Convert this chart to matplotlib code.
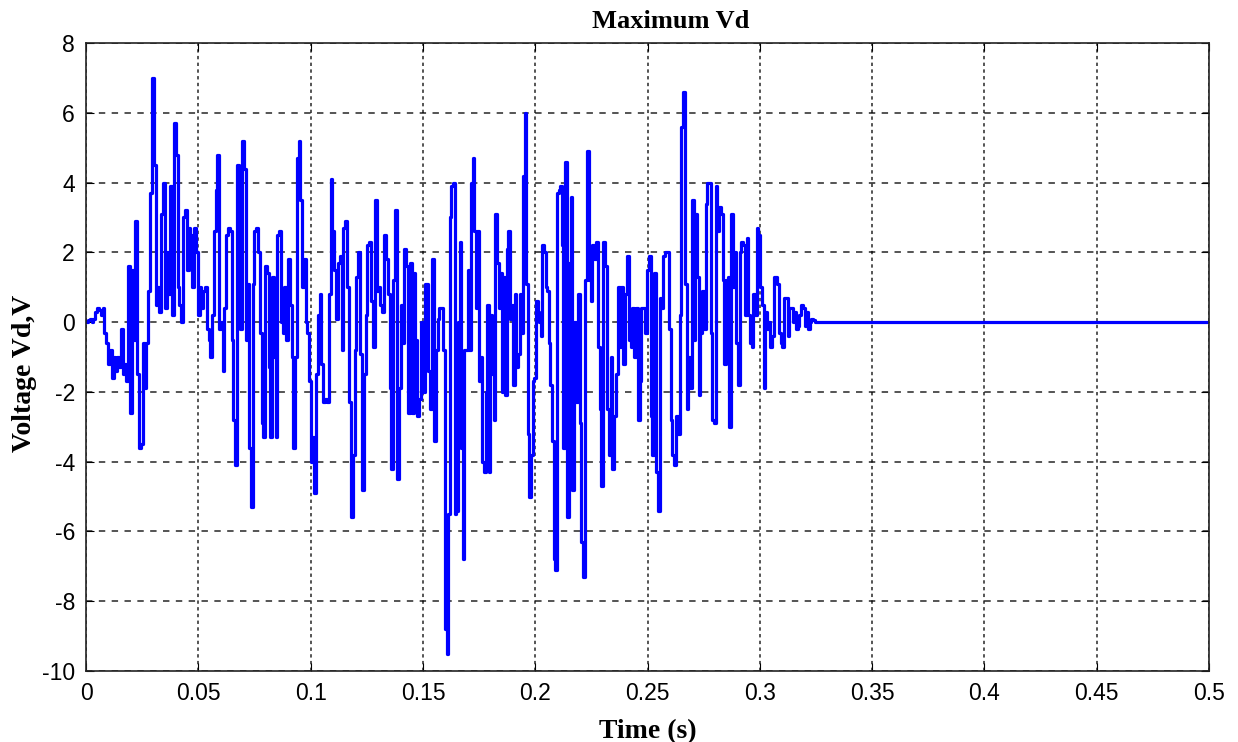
import numpy as np
import matplotlib
matplotlib.use('Agg')
import matplotlib.pyplot as plt

plt.rcParams['axes.unicode_minus'] = False

# Vd signal, in six time windows (s)
seg_edges = [0.0, 0.053, 0.1064, 0.1598, 0.2133, 0.2667, 0.3245]

vd_seg1 = [0, 0.05, 0.1, 0.0, 0.1, 0.3, 0.4, 0.35, 0.2, 0.4,
           -0.3, -0.6, -1.2, -0.8, -1.6, -1.0, -1.4, -1.0, -1.3, -0.2,
           -1.5, -1.2, -1.7, 1.6, -2.6, 1.5, -0.5, 2.9, -1.5, -3.6,
           -3.5, -0.6, -1.9, -0.6, 0.9, 3.7, 7.0, 4.5, 0.5, 1.0,
           0.3, 3.1, 4.0, 0.4, 2.0, 0.8, 3.9, 0.2, 5.7, 4.8,
           1.0, 0.5, 0.0, 3.0, 3.2, 1.5, 2.7, 2.5, 1.0, 2.7,
           2.0, 0.2, 1.0, 0.4, 0.9]
vd_seg2 = [1.0, -0.2, -0.5, -1.0, 0.2, 2.6, 3.8, 4.8, -0.2, 0.0,
           -1.4, 0.4, 2.5, 2.7, 2.6, -0.5, -2.8, -4.1, 4.5, 1.0,
           -0.2, 5.2, 4.4, -0.5, 1.1, -3.6, -5.3, 1.1, 2.6, 2.7,
           2.0, -0.3, -2.9, -3.3, 1.6, 1.4, -1.3, -3.3, 1.3, -1.0,
           -3.3, 2.5, 2.6, 0.0, -0.3, 1.0, -0.5, 1.8, 0.5, -1.0,
           -3.6, -1.0, 4.7, 5.2, 3.5, 1.0, 1.8, 0.0, -0.3, -1.7,
           -4.0, -3.3, -4.9, -1.5, 0.2, 0.8, -1.2, -2.3]
vd_seg3 = [-2.2, -2.3, 0.8, 4.1, 2.6, 1.5, 0.1, 1.7, 1.9, -0.8,
           2.7, 2.9, 1.0, -2.3, -5.6, -3.8, -0.8, 1.3, 2.0, -0.9,
           -4.8, -1.5, 0.2, 2.2, 2.3, 0.6, -0.7, 3.5, 0.9, 1.0,
           0.5, 0.3, 2.5, 1.8, 0.8, -1.9, -4.2, 1.2, 3.2, -4.5,
           -1.9, 0.5, -0.6, 2.1, 1.6, -2.6, 1.7, -2.6, 1.4, -0.5,
           -2.7, -2.2, 0.0, -2.0, 1.1, 1.1, -1.4, -2.5, 1.8, -3.4,
           -0.8, 0.1, 0.4, 0.4, -0.8]
vd_seg4 = [-8.8, -9.5, -5.5, 3.0, 3.9, 4.0, -5.5, -5.4, 0.0, 2.3,
           -3.6, -6.8, -0.8, -0.8, 1.5, -0.8, 4.0, 4.7, 2.6, 0.4,
           2.6, -1.7, -1.0, -4.0, -4.3, -2.0, 0.5, -4.3, 0.2, -1.5,
           -2.8, 3.1, 1.7, 0.4, 1.4, -2.0, 1.3, -2.1, 2.1, 2.6,
           0.1, 0.5, -1.8, 0.8, -1.3, -0.9, 0.8, -0.3, 4.2, 6.0,
           1.1, -3.2, -5.0, -3.8, -1.7, -1.6, 0.6, 0.3, 0.0, -0.4,
           2.2, 2.0, 1.0, 0.9, -0.6, -1.8, -3.4, -6.8, -7.1, 3.7,
           3.8, 3.9, 2.2, -3.6]
vd_seg5 = [4.6, -5.6, 1.7, 3.6, -4.8, 0.0, -2.3, 0.8, -2.9, -6.3,
           -7.3, 1.2, 4.9, 1.2, 0.6, 2.2, 1.8, 2.3, -0.7, -2.5,
           -4.7, 2.3, 1.6, -2.5, -3.8, -1.0, -4.2, -2.7, -1.5, 1.0,
           -0.7, 1.0, -1.2, 0.8, 1.9, -0.5, -0.7, 0.4, -1.0, 0.4,
           -2.8, -1.7, 0.4, 0.4, -0.3, 1.5, 1.9, -2.7, -3.8, 1.4,
           -4.3, -5.4, 0.7, 0.4, 1.9, 2.0, 2.0, -0.2, -2.8, -3.8,
           -4.1, -2.7, -3.2, 0.2, 5.6, 6.6]
vd_seg6 = [1.1, -2.5, -1.0, -1.9, 3.5, -0.5, 3.1, 1.3, -2.1, -0.3,
           0.9, -0.2, 3.4, 4.0, 4.0, -0.3, -2.8, -2.9, 3.9, 2.6,
           3.3, 3.1, 1.2, -1.2, 1.2, 1.3, -3.0, 3.1, 1.0, 2.0,
           -0.6, -1.8, 2.0, 2.3, 2.2, 0.2, 2.4, 0.2, -0.6, -0.7,
           0.8, 0.2, 2.7, 2.5, 1.0, 0.5, -1.9, 0.3, -0.2, 0.0,
           -0.7, -0.4, 1.3, 1.3, 1.1, -0.3, -0.6, -0.7, 0.7, 0.7,
           -0.4, 0.4, 0.4, 0.0, 0.3, -0.2, -0.1, 0.2, 0.5, 0.4,
           -0.1, 0.3, -0.2, 0.0, 0.1, 0.05]
t_end = 0.5

segs = [vd_seg1, vd_seg2, vd_seg3, vd_seg4, vd_seg5, vd_seg6]
t = []
vd = []
for i, s in enumerate(segs):
    tt = np.linspace(seg_edges[i], seg_edges[i + 1], len(s), endpoint=False)
    t.extend(tt)
    vd.extend(s)
t.extend([seg_edges[-1], t_end])
vd.extend([0.0, 0.0])

fig = plt.figure(figsize=(12.38, 7.42), dpi=100)
ax = fig.add_axes([0.0695, 0.0957, 0.9071, 0.8463])
ax.plot(t, vd, color=(0, 0, 1), lw=2.3, drawstyle='steps-post')

ax.set_xlim(0, 0.5)
ax.set_ylim(-10, 8)
ax.set_xticks(np.arange(0, 0.51, 0.05))
ax.set_xticklabels(['0', '0.05', '0.1', '0.15', '0.2', '0.25', '0.3', '0.35', '0.4', '0.45', '0.5'])
ax.set_yticks(np.arange(-10, 9, 2))
ax.xaxis.grid(True, color='black', linestyle=(0, (2.2, 2.2)), lw=1.1, alpha=0.85)
ax.yaxis.grid(True, color='black', linestyle=(0, (4.2, 4.2)), lw=1.1, alpha=0.85)
ax.tick_params(direction='in', top=True, right=True, length=6, labelsize=16.5, pad=8)
for lbl in ax.get_xticklabels() + ax.get_yticklabels():
    lbl.set_family('Liberation Sans')
for sp in ax.spines.values():
    sp.set_linewidth(1.2)
    sp.set_color('#222222')

ax.set_title('Maximum Vd', family='Liberation Serif', weight='bold', size=19, pad=11, x=0.521)
ax.set_xlabel('Time (s)', family='Liberation Serif', weight='bold', size=20, labelpad=10)
fig.text(25 / 1238, 1 - 373 / 742, 'Voltage Vd,V', family='Liberation Serif', weight='bold',
         size=20, rotation=90, ha='center', va='center')

fig.savefig('out.png', dpi=100)
